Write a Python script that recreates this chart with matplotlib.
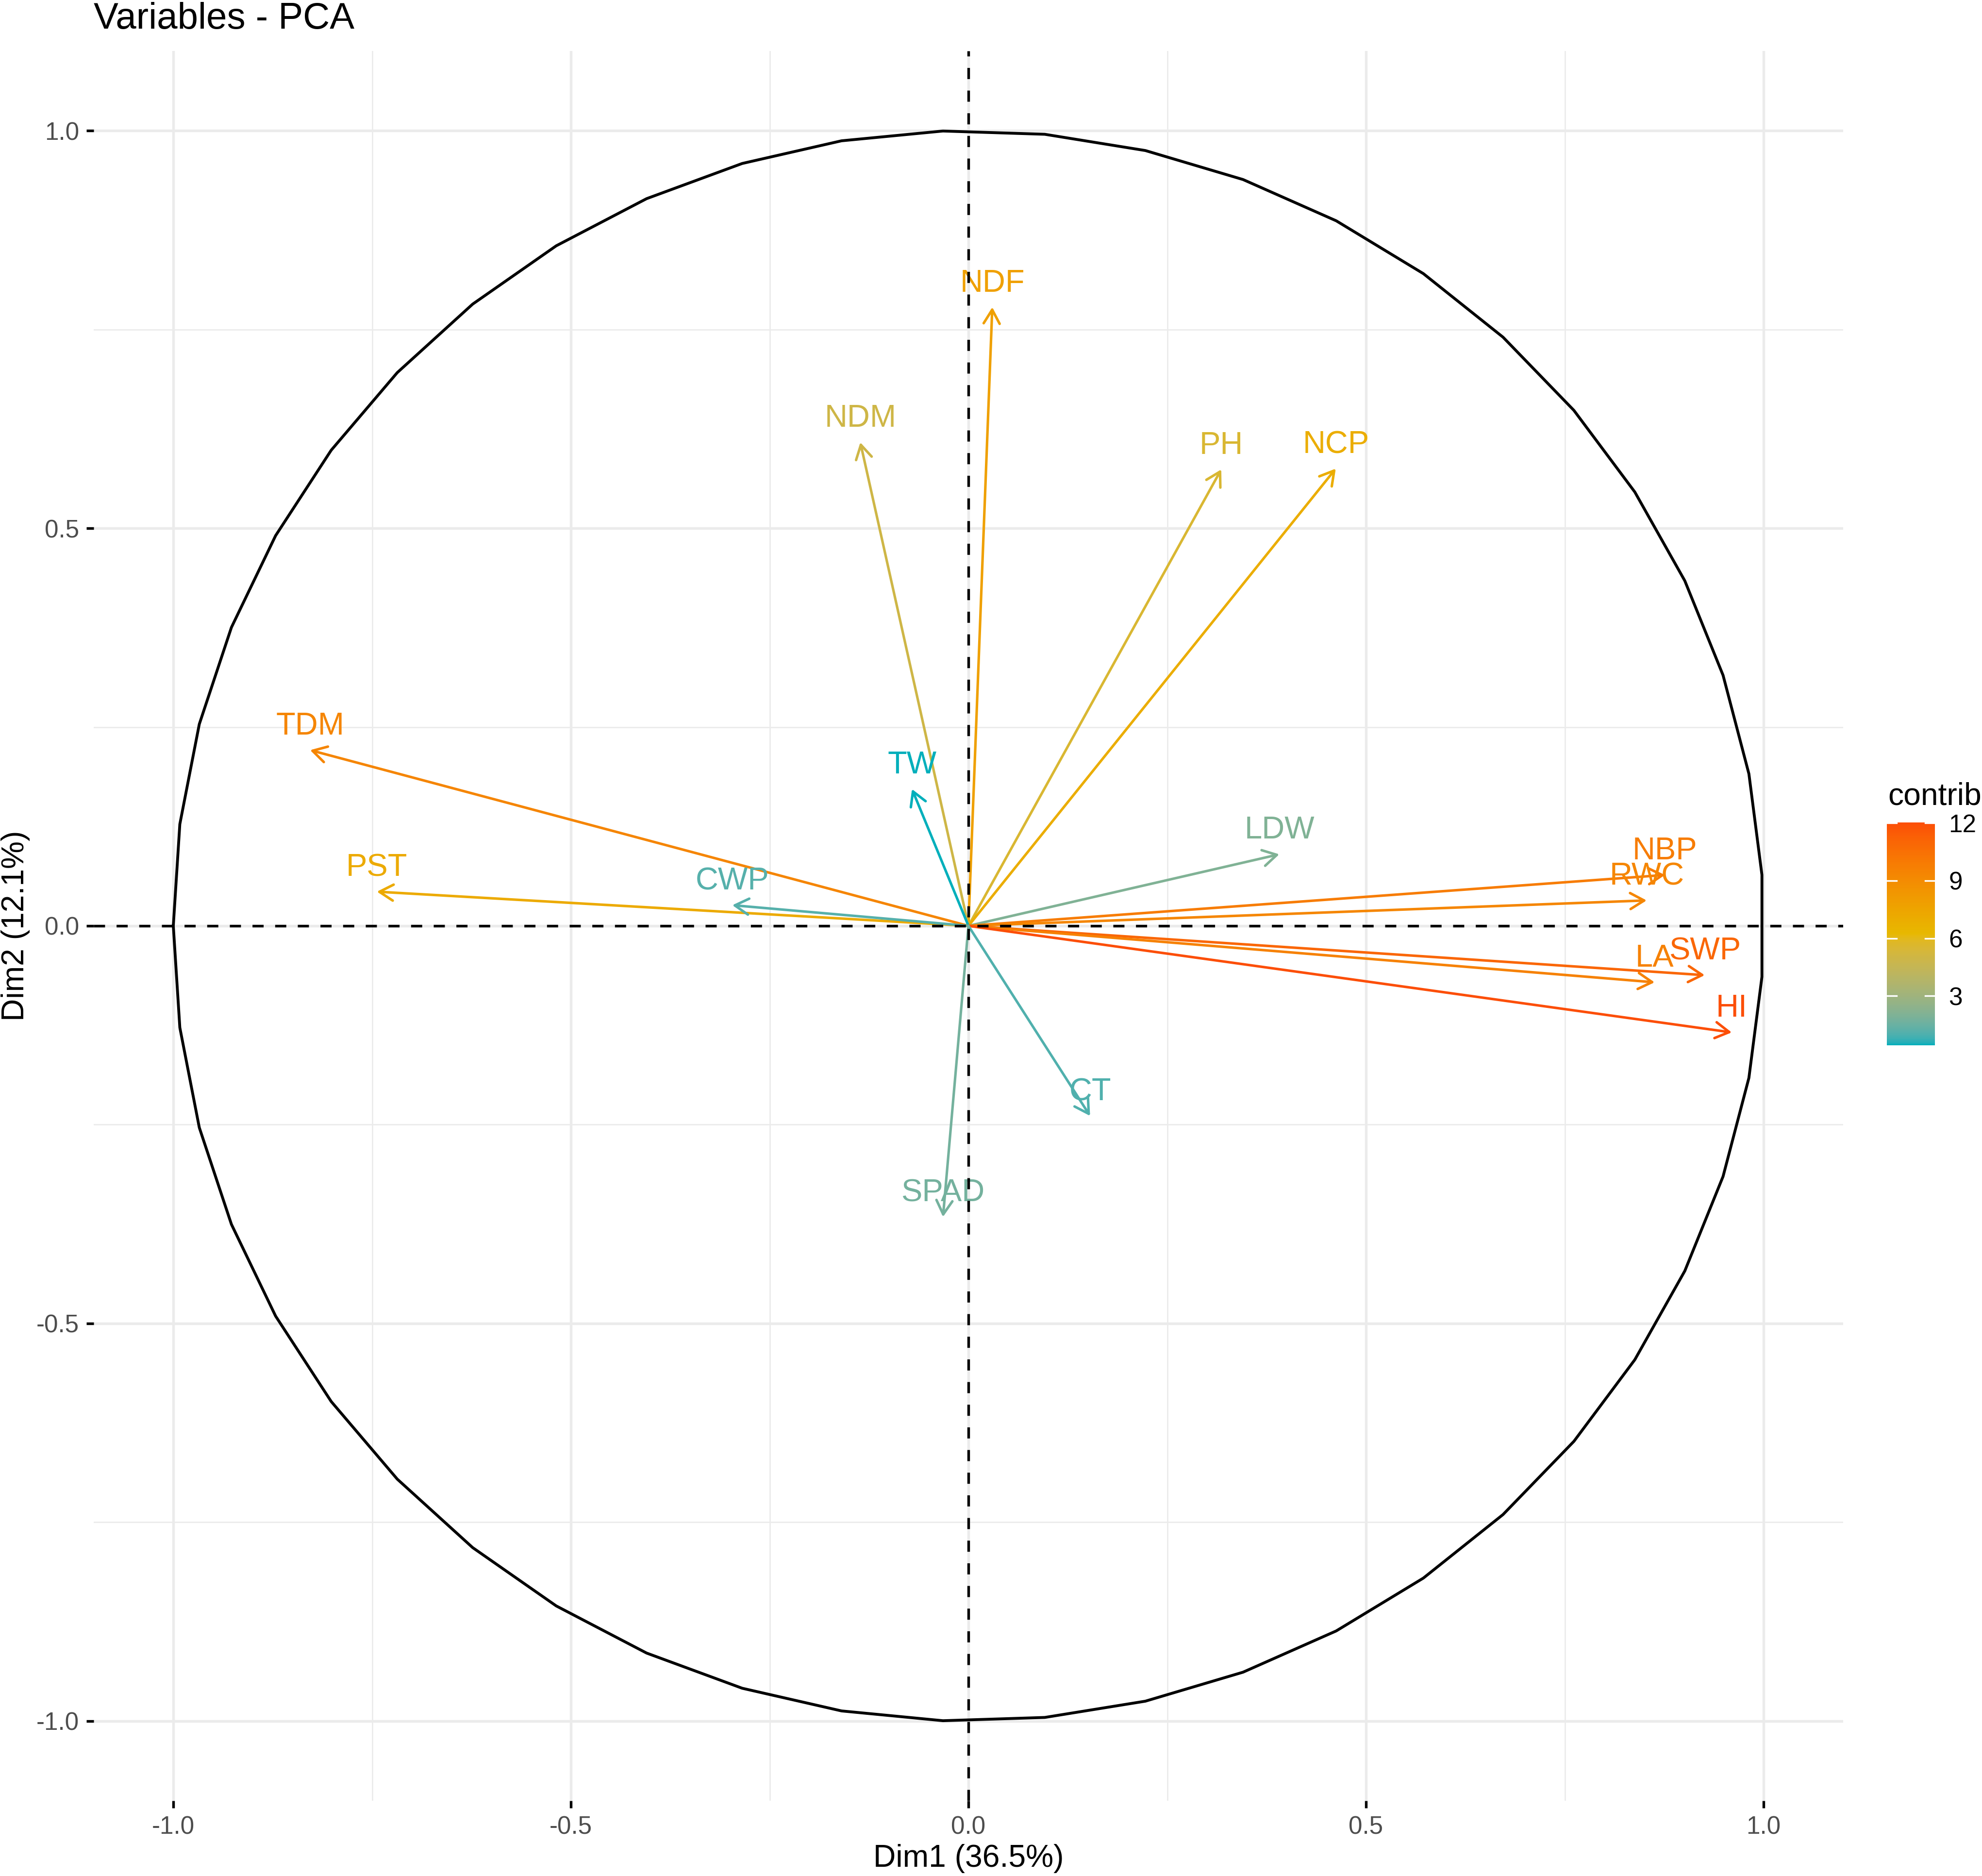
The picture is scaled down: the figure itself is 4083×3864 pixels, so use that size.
import numpy as np
import matplotlib.pyplot as plt
from matplotlib.colors import ListedColormap, Normalize
from matplotlib.cm import ScalarMappable

plt.rcParams['font.family'] = ['Liberation Sans', 'DejaVu Sans']
plt.rcParams['lines.scale_dashes'] = False

# PCA variable coordinates
variables = ["NDF", "NDM", "PH", "NCP", "TDM", "TW", "PST", "CWP",
             "LDW", "NBP", "RWC", "SWP", "LA", "HI", "CT", "SPAD"]
dim1 = [0.030, -0.136, 0.318, 0.462, -0.828, -0.071, -0.744, -0.297,
        0.391, 0.876, 0.853, 0.926, 0.863, 0.960, 0.153, -0.032]
dim2 = [0.778, 0.608, 0.574, 0.575, 0.221, 0.172, 0.043, 0.026,
        0.090, 0.064, 0.032, -0.062, -0.071, -0.134, -0.239, -0.366]
contrib = [7.77, 4.97, 5.51, 6.97, 9.40, 0.43, 7.11, 1.13,
           2.06, 9.88, 9.33, 11.03, 9.60, 12.03, 1.03, 1.73]

gradient_cols = ["#00AFBB", "#E7B800", "#FC4E07"]
major_ticks = [-1.0, -0.5, 0.0, 0.5, 1.0]
minor_ticks = [-0.75, -0.25, 0.25, 0.75]
cbar_ticks = [3, 6, 9, 12]

W, H, DPI = 4083, 3864, 300


# colour ramp interpolated in CIELAB, like scales::gradient_n_pal
def hex_to_rgb(h):
    h = h.lstrip("#")
    return np.array([int(h[i:i + 2], 16) / 255 for i in (0, 2, 4)])


M = np.array([[0.4124564, 0.3575761, 0.1804375],
              [0.2126729, 0.7151522, 0.0721750],
              [0.0193339, 0.1191920, 0.9503041]])
WHITE = np.array([0.95047, 1.0, 1.08883])


def rgb_to_lab(c):
    lin = np.where(c <= 0.04045, c / 12.92, ((c + 0.055) / 1.055) ** 2.4)
    t = (M @ lin) / WHITE
    d = 6 / 29
    f = np.where(t > d ** 3, np.cbrt(t), t / (3 * d * d) + 4 / 29)
    return np.array([116 * f[1] - 16, 500 * (f[0] - f[1]), 200 * (f[1] - f[2])])


def lab_to_rgb(lab):
    fy = (lab[0] + 16) / 116
    f = np.array([fy + lab[1] / 500, fy, fy - lab[2] / 200])
    d = 6 / 29
    t = np.where(f > d, f ** 3, 3 * d * d * (f - 4 / 29)) * WHITE
    lin = np.linalg.solve(M, t)
    c = np.where(lin <= 0.0031308, 12.92 * lin, 1.055 * np.clip(lin, 0, None) ** (1 / 2.4) - 0.055)
    return np.clip(c, 0, 1)


labs = [rgb_to_lab(hex_to_rgb(c)) for c in gradient_cols]
ramp = []
for p in np.linspace(0, 1, 256):
    seg = min(int(p * 2), 1)
    u = p * 2 - seg
    ramp.append(lab_to_rgb(labs[seg] * (1 - u) + labs[seg + 1] * u))
cmap = ListedColormap(ramp)
norm = Normalize(vmin=min(contrib), vmax=max(contrib))

fig = plt.figure(figsize=(W / DPI, H / DPI), dpi=DPI)
ax = fig.add_axes([0.04732, 0.04017, 0.88259, 0.93260])
ax.set_xlim(-1.1, 1.1)
ax.set_ylim(-1.1, 1.1)
for s in ax.spines.values():
    s.set_visible(False)

for v in major_ticks:
    ax.axvline(v, color="#EBEBEB", lw=1.3, zorder=0)
    ax.axhline(v, color="#EBEBEB", lw=1.3, zorder=0)
for v in minor_ticks:
    ax.axvline(v, color="#EBEBEB", lw=0.65, zorder=0)
    ax.axhline(v, color="#EBEBEB", lw=0.65, zorder=0)

ax.set_xticks(major_ticks)
ax.set_xticklabels([f"{v:.1f}" for v in major_ticks])
ax.set_yticks(major_ticks)
ax.set_yticklabels([f"{v:.1f}" for v in major_ticks])
ax.tick_params(length=3.6, width=1.3, color="black", labelcolor="#4D4D4D",
               labelsize=12.3, pad=3.7)

# correlation circle
theta = np.linspace(-np.pi, np.pi, 50)
ax.plot(np.cos(theta), np.sin(theta), color="black", lw=1.4, zorder=2)

for name, x, y, c in zip(variables, dim1, dim2, contrib):
    col = cmap(norm(c))
    ax.annotate("", xy=(x, y), xytext=(0, 0),
                arrowprops=dict(arrowstyle="->,head_length=0.684,head_width=0.395",
                                mutation_scale=10, color=col, lw=1.25,
                                shrinkA=0, shrinkB=0), zorder=3)
    ax.annotate(name, xy=(x, y), xytext=(0, 7.7), textcoords="offset points",
                ha="center", va="baseline", fontsize=15.6, color=col, zorder=4)

ax.axhline(0, color="black", lw=1.3, linestyle=(0, (5.5, 5.7)), zorder=5)
ax.axvline(0, color="black", lw=1.3, linestyle=(0, (5.5, 5.7)), zorder=5)

fig.text(193 / W, 1 - 59 / H, "Variables - PCA", fontsize=18.3, ha="left", va="baseline")
fig.text(1995 / W, 1 - 3845 / H, "Dim1 (36.5%)", fontsize=15.4, ha="center", va="baseline")
fig.text(32 / W, 1 - 1907 / H, "Dim2 (12.1%)", fontsize=15.4, ha="center", va="center",
         rotation=90)

# colour bar legend
cax = fig.add_axes([0.952, 0.4428, 0.0243, 0.1188])
cb = fig.colorbar(ScalarMappable(norm=norm, cmap=cmap), cax=cax, ticks=cbar_ticks)
cb.outline.set_visible(False)
cax.tick_params(length=0, labelsize=12.3, pad=6.7, labelcolor="black")
for t in cbar_ticks:
    cax.plot([0, 0.2], [t, t], transform=cax.get_yaxis_transform(), color="white", lw=0.8)
    cax.plot([0.8, 1], [t, t], transform=cax.get_yaxis_transform(), color="white", lw=0.8)
fig.text(3889 / W, 1 - 1657 / H, "contrib", fontsize=15.4, ha="left", va="baseline")

fig.savefig("out.png", dpi=DPI)
